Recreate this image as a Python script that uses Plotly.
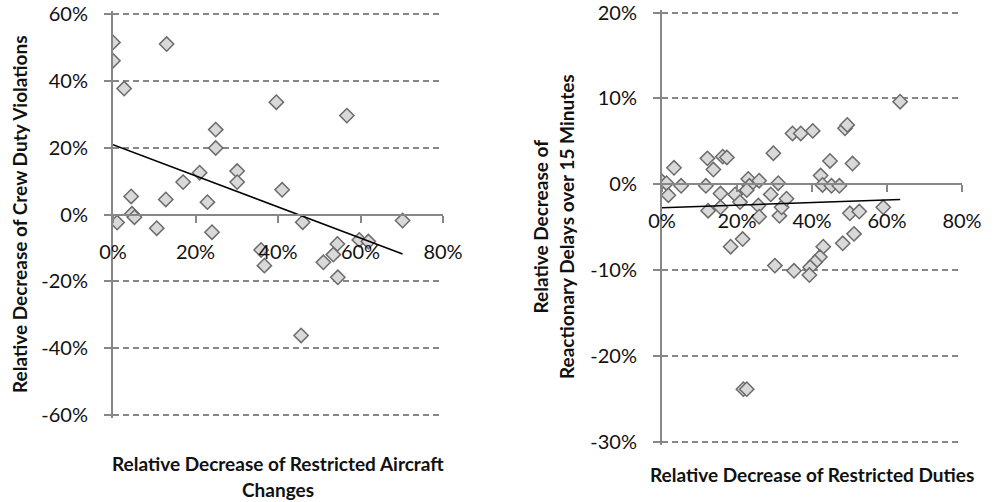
import plotly.graph_objects as go

# Left panel: restricted aircraft changes vs crew duty violations (percent)
aircraft_change_dec = [0, 0, 2.7, 13, 1, 4.4, 4.6, 5.2, 10.6, 12.8, 17, 21, 22.9, 24,
                       24.9, 24.9, 30.1, 30.1, 39.6, 41, 56.7, 46, 35.9, 36.7, 54.4,
                       53.4, 51, 54.5, 59.7, 61.9, 70.2, 45.6]
crew_violation_dec = [51.5, 46, 37.7, 51, -2.4, 5.4, 0.2, -0.8, -4.1, 4.5, 9.7, 12.5, 3.7,
                      -5.3, 25.4, 19.9, 13, 9.7, 33.6, 7.4, 29.6, -2.3, -10.6, -15.3,
                      -8.8, -12, -14.3, -18.8, -7.6, -8.1, -1.8, -36.2]
trend_left_x = [0, 70.2]
trend_left_y = [20.9, -11.8]

# Right panel: restricted duties vs reactionary delays over 15 minutes (percent)
duties_dec = [0, 1.2, 1.7, 3.2, 5.1, 11.7, 12.1, 13.7, 12.3, 16.2, 17.3, 15.6, 15.6,
              19.5, 20.8, 23, 23.3, 22.6, 25.9, 25.7, 25.9, 18.3, 21.5, 29.7, 29, 31,
              31.3, 31.9, 33.2, 30.1, 35.2, 34.8, 37, 40.2, 42.3, 44.8, 42.8, 45.2,
              47.3, 48.8, 49.4, 50.8, 59, 50.1, 52.6, 51.2, 48.2, 43, 42.1, 40.8,
              39.5, 39.3, 63.5, 21.7, 22.6]
delay_dec = [0.3, 0.1, -1.3, 1.9, -0.2, -0.2, 3, 1.7, -3.1, 3.2, 3.1, -1.1, -2.7,
             -1.2, -2.1, 0.6, -0.2, -0.7, 0.4, -2.5, -3.8, -7.3, -6.4, 3.6, -1.2, 0.1,
             -3.7, -2.7, -1.7, -9.5, -10.1, 5.9, 5.9, 6.2, 1, 2.7, -0.1, -0.2, -0.2,
             6.5, 6.9, 2.4, -2.7, -3.4, -3.2, -5.8, -6.9, -7.3, -8.5, -9.1, -9.7,
             -10.6, 9.6, -23.9, -23.9]
trend_right_x = [0, 63.5]
trend_right_y = [-2.75, -1.8]

left_x_ticks = [0, 20, 40, 60, 80]
left_y_ticks = [-60, -40, -20, 0, 20, 40, 60]
right_x_ticks = [0, 20, 40, 60, 80]
right_y_ticks = [-30, -20, -10, 0, 10, 20]

W, H = 1002, 502
FONT = "Lato"
AXIS_GRAY = "#878787"
PAD = 3  # pixels of headroom so the end gridlines are kept


def px_x(p):
    return p / W


def px_y(p):
    return 1 - p / H


def pct(vals):
    return [f"{v}%" for v in vals]


def padded(lo, hi, top_px, bottom_px):
    per_px = (hi - lo) / (bottom_px - top_px)
    return [lo - PAD * per_px, hi + PAD * per_px], top_px - PAD, bottom_px + PAD


marker = dict(symbol="diamond", size=11, color="#d9d9d9",
              line=dict(color="#6b6b6b", width=1.5))

fig = go.Figure()
fig.add_trace(go.Scatter(x=aircraft_change_dec, y=crew_violation_dec, mode="markers",
                         marker=marker, xaxis="x", yaxis="y", showlegend=False))
fig.add_trace(go.Scatter(x=trend_left_x, y=trend_left_y, mode="lines",
                         line=dict(color="black", width=1.5), xaxis="x", yaxis="y",
                         showlegend=False))
fig.add_trace(go.Scatter(x=duties_dec, y=delay_dec, mode="markers",
                         marker=marker, xaxis="x2", yaxis="y2", showlegend=False))
fig.add_trace(go.Scatter(x=trend_right_x, y=trend_right_y, mode="lines",
                         line=dict(color="black", width=1.5), xaxis="x2", yaxis="y2",
                         showlegend=False))

tick_font = dict(family=FONT, size=20, color="#111111")

# plot-area rectangles in pixels
L_X0, L_X1 = 113, 443
R_X0, R_X1 = 662, 962
L_YR, L_Y0, L_Y1 = padded(-60, 60, 14, 415)
R_YR, R_Y0, R_Y1 = padded(-30, 20, 12.5, 441.5)

ly_dom = [px_y(L_Y1), px_y(L_Y0)]
ry_dom = [px_y(R_Y1), px_y(R_Y0)]
l_zero = ly_dom[0] + (0 - L_YR[0]) / (L_YR[1] - L_YR[0]) * (ly_dom[1] - ly_dom[0])
r_zero = ry_dom[0] + (0 - R_YR[0]) / (R_YR[1] - R_YR[0]) * (ry_dom[1] - ry_dom[0])

common_x = dict(showgrid=False, zeroline=False, showline=True, linecolor=AXIS_GRAY,
                linewidth=2, ticks="outside", ticklen=7, tickwidth=2,
                tickcolor=AXIS_GRAY, tickfont=tick_font, anchor="free",
                ticklabelstandoff=12, ticklabeloverflow="allow", automargin=False)
common_y = dict(showgrid=True, gridcolor=AXIS_GRAY, gridwidth=1.5, griddash="6px,4px",
                zeroline=False, showline=True, linecolor=AXIS_GRAY, linewidth=2,
                ticks="outside", ticklen=7, tickwidth=2, tickcolor=AXIS_GRAY,
                tickfont=tick_font, ticklabelstandoff=12, ticklabeloverflow="allow",
                automargin=False)

fig.update_layout(
    width=W, height=H,
    margin=dict(l=0, r=0, t=0, b=0),
    paper_bgcolor="white", plot_bgcolor="white",
    font=dict(family=FONT, color="#111111"),
    xaxis=dict(common_x, domain=[px_x(L_X0), px_x(L_X1)], range=[0, 80],
               tickvals=left_x_ticks, ticktext=pct(left_x_ticks),
               position=l_zero),
    yaxis=dict(common_y, domain=ly_dom, range=L_YR, anchor="x",
               tickvals=left_y_ticks, ticktext=pct(left_y_ticks)),
    xaxis2=dict(common_x, domain=[px_x(R_X0), px_x(R_X1)], range=[0, 80],
                tickvals=right_x_ticks, ticktext=pct(right_x_ticks),
                position=r_zero),
    yaxis2=dict(common_y, domain=ry_dom, range=R_YR, anchor="x2",
                tickvals=right_y_ticks, ticktext=pct(right_y_ticks)),
)

title_font = dict(family=FONT, size=19, color="#111111", weight="bold")


def title(text, x, y, angle=0):
    fig.add_annotation(text=text, xref="paper", yref="paper", x=px_x(x), y=px_y(y),
                       xanchor="center", yanchor="middle", showarrow=False,
                       textangle=angle, font=title_font)


title("Relative Decrease of Restricted Aircraft", 278, 463)
title("Changes", 278, 489)
title("Relative Decrease of Crew Duty Violations", 19, 214, -90)
title("Relative Decrease of Restricted Duties", 812, 474)
title("Relative Decrease of", 539.5, 227, -90)
title("Reactionary Delays over 15 Minutes", 566, 227, -90)

fig.write_html("out.html")
